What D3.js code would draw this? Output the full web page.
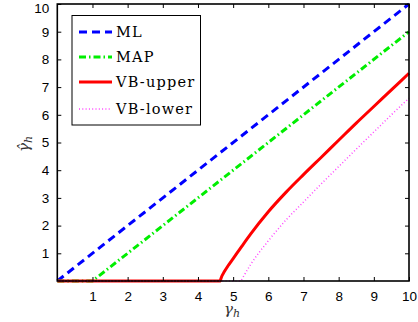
<!DOCTYPE html>
<html>
<head>
<meta charset="utf-8">
<script src="https://cdn.jsdelivr.net/npm/d3@7"></script>
<style>
  html, body { margin: 0; padding: 0; background: #fff; }
  svg { display: block; }
</style>
</head>
<body>
<div id="chart"></div>
<script>
// data
const xTicks = [1, 2, 3, 4, 5, 6, 7, 8, 9, 10];
const yTicks = [1, 2, 3, 4, 5, 6, 7, 8, 9, 10];

const mlPoints = [[0, 0], [10, 10]];
const mapPoints = [[0, 0], [1, 0], [10, 9]];
const vbUpperPoints = [
  [0, 0], [4.63, 0], [4.68, 0.18], [4.75, 0.34], [4.85, 0.54], [5.0, 0.81],
  [5.25, 1.26], [5.5, 1.7], [6.0, 2.5], [6.5, 3.2], [7.0, 3.84], [7.5, 4.46],
  [8.0, 5.08], [8.5, 5.7], [9.0, 6.3], [9.5, 6.9], [10, 7.5]
];
const vbLowerPoints = [
  [0, 0], [5.22, 0], [5.5, 0.6], [6.0, 1.45], [6.5, 2.2], [7.0, 2.85],
  [7.5, 3.5], [8.0, 4.13], [8.5, 4.76], [9.0, 5.38], [9.5, 6.0], [10, 6.6]
];

const seriesNames = ["ML", "MAP", "VB-upper", "VB-lower"];
const seriesData = [mlPoints, mapPoints, vbUpperPoints, vbLowerPoints];
const seriesStyle = [
  { color: "#0000ff", width: 3, dash: "8,5" },
  { color: "#00ee00", width: 3, dash: "7,3,1.5,3" },
  { color: "#ff0000", width: 3, dash: null },
  { color: "#ff44ff", width: 1.5, dash: "1,2.3" }
];

const W = 418, H = 322;
const plot = { left: 57.3, right: 409, top: 4, bottom: 281 };

const svg = d3.select("#chart").append("svg")
  .attr("width", W).attr("height", H);

const x = d3.scaleLinear().domain([0, 10]).range([plot.left, plot.right]);
const y = d3.scaleLinear().domain([0, 10]).range([plot.bottom, plot.top]);

svg.append("defs").append("clipPath").attr("id", "plot-clip")
  .append("rect")
  .attr("x", plot.left - 2).attr("y", plot.top - 2)
  .attr("width", plot.right - plot.left + 4)
  .attr("height", plot.bottom - plot.top + 4);

// lines (drawn before the axis box so the box is on top)
const flatLine = d3.line().x((d) => x(d[0])).y((d) => y(d[1]));
const smoothLine = d3.line().x((d) => x(d[0])).y((d) => y(d[1]))
  .curve(d3.curveMonotoneX);
const lines = svg.append("g").attr("clip-path", "url(#plot-clip)");
seriesData.forEach((pts, i) => {
  const s = seriesStyle[i];
  // flat zero part is straight, the rest is a smooth curve
  const k = d3.max(pts.map((p, j) => (p[1] === 0 ? j : 0)));
  const d = flatLine(pts.slice(0, k + 1)) +
    smoothLine(pts.slice(k)).replace(/^M/, "L");
  lines.append("path")
    .attr("d", d)
    .attr("fill", "none")
    .attr("stroke", s.color)
    .attr("stroke-width", s.width)
    .attr("stroke-dasharray", s.dash)
    .attr("stroke-linejoin", "round");
});

// axes: ticks point inward, on all four sides
const fontSans = "'Liberation Sans', Arial, sans-serif";
const tickLen = 4;

const xAxis = svg.append("g").attr("transform", `translate(0,${plot.bottom})`)
  .call(d3.axisBottom(x).tickValues(xTicks).tickSize(-tickLen).tickPadding(10)
    .tickFormat(d3.format("d")));
const xAxisTop = svg.append("g").attr("transform", `translate(0,${plot.top})`)
  .call(d3.axisTop(x).tickValues(xTicks).tickSize(-tickLen).tickFormat(""));
const yAxis = svg.append("g").attr("transform", `translate(${plot.left},0)`)
  .call(d3.axisLeft(y).tickValues(yTicks).tickSize(-tickLen).tickPadding(8)
    .tickFormat(d3.format("d")));
const yAxisRight = svg.append("g").attr("transform", `translate(${plot.right},0)`)
  .call(d3.axisRight(y).tickValues(yTicks).tickSize(-tickLen).tickFormat(""));

[xAxis, xAxisTop, yAxis, yAxisRight].forEach((a) => {
  a.select(".domain").remove();
  a.selectAll(".tick line").attr("stroke", "#000").attr("stroke-width", 1);
  a.selectAll(".tick text")
    .attr("fill", "#000")
    .style("font-family", fontSans)
    .style("font-size", "13.5px");
});
// keep the top label "10" inside the picture
yAxis.selectAll(".tick text").filter((d) => d === 10).attr("dy", "0.62em");

svg.append("rect")
  .attr("x", plot.left).attr("y", plot.top)
  .attr("width", plot.right - plot.left).attr("height", plot.bottom - plot.top)
  .attr("fill", "none")
  .attr("stroke", "#000")
  .attr("stroke-width", 1.6);

// axis labels
const fontSerif = "'DejaVu Serif', 'Liberation Serif', serif";
const xLabel = svg.append("text")
  .attr("x", 224).attr("y", 314)
  .attr("fill", "#333")
  .style("font-family", fontSerif)
  .style("font-style", "italic")
  .style("font-size", "15px");
xLabel.append("tspan").text("γ");
xLabel.append("tspan").attr("dy", 3).style("font-size", "11px").text("h");

const yLabel = svg.append("text")
  .attr("transform", "translate(29,152) rotate(-90)")
  .attr("fill", "#333")
  .style("font-family", fontSerif)
  .style("font-style", "italic")
  .style("font-size", "15px");
yLabel.append("tspan").text("γ\u0302");
yLabel.append("tspan").attr("dy", 3).style("font-size", "11px").text("h");

// legend
const legend = svg.append("g");
legend.append("rect")
  .attr("x", 72).attr("y", 15.5)
  .attr("width", 128.5).attr("height", 109.5)
  .attr("fill", "#fff")
  .attr("stroke", "#000")
  .attr("stroke-width", 1);

const legendY = [32, 57, 82, 109];
seriesNames.forEach((name, i) => {
  const s = seriesStyle[i];
  legend.append("line")
    .attr("x1", 79).attr("x2", 112)
    .attr("y1", legendY[i]).attr("y2", legendY[i])
    .attr("stroke", s.color)
    .attr("stroke-width", s.width)
    .attr("stroke-dasharray", s.dash);
  legend.append("text")
    .attr("x", 116).attr("y", legendY[i] + 5)
    .attr("fill", "#000")
    .style("font-family", fontSerif)
    .style("font-size", "14.5px")
    .style("letter-spacing", "1.2px")
    .text(name);
});
</script>
</body>
</html>
